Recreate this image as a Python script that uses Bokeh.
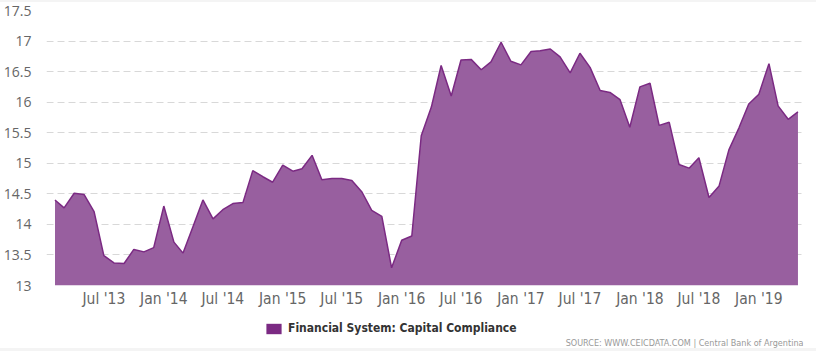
import pandas as pd
from bokeh.plotting import figure
from bokeh.models import (Range1d, FixedTicker, MonthsTicker, DatetimeTickFormatter,
                          NumeralTickFormatter, Legend, LegendItem, Label, Spacer, ColumnDataSource)
from bokeh.layouts import column
from bokeh.embed import file_html
from bokeh.resources import INLINE

# ---- data (monthly, Feb 2013 .. May 2019) ----
start_month = "2013-02-01"
values = [
    14.40, 14.27, 14.51, 14.49, 14.21, 13.49, 13.37, 13.36, 13.59, 13.55, 13.62,   # Feb13-Dec13
    14.30, 13.71, 13.53, 13.97, 14.40, 14.09, 14.24, 14.34, 14.36, 14.88, 14.78, 14.69,  # 2014
    14.97, 14.87, 14.91, 15.13, 14.73, 14.75, 14.75, 14.72, 14.53, 14.23, 14.13, 13.29,  # 2015
    13.74, 13.81, 15.45, 15.92, 16.60, 16.10, 16.69, 16.70, 16.53, 16.66, 16.98, 16.67,  # 2016
    16.61, 16.83, 16.84, 16.87, 16.74, 16.48, 16.80, 16.57, 16.19, 16.16, 16.04, 15.59,  # 2017
    16.25, 16.31, 15.62, 15.67, 14.98, 14.92, 15.09, 14.44, 14.63, 15.22, 15.58, 15.97,  # 2018
    16.13, 16.63, 15.94, 15.72, 15.84,                                                  # 2019
]
dates = pd.date_range(start_month, periods=len(values), freq="MS")
y_ticks = [13, 13.5, 14, 14.5, 15, 15.5, 16, 16.5, 17, 17.5]
series_name = "Financial System: Capital Compliance"
source_text = "SOURCE: WWW.CEICDATA.COM | Central Bank of Argentina"

src = ColumnDataSource(dict(date=dates, value=values))

NARROW = "DejaVu Sans Condensed"

# ---------------- main chart ----------------
p = figure(width=816, height=308, output_backend="svg", toolbar_location=None,
           x_axis_type="datetime",
           x_range=Range1d(pd.Timestamp("2013-01-06"), pd.Timestamp("2019-05-18")),
           y_range=Range1d(13, 17.5),
           min_border_left=43, min_border_right=13, min_border_top=8, min_border_bottom=24)
p.outline_line_color = None
p.background_fill_color = "white"
p.border_fill_color = "white"

p.varea(x="date", y1=13, y2="value", source=src, fill_color="#985f9f", fill_alpha=1.0)
p.line(x="date", y="value", source=src, line_color="#7b2a83", line_width=1.5)

p.xgrid.grid_line_color = None
p.ygrid.grid_line_color = "#d8d8d8"
p.ygrid.grid_line_dash = "7 4"
p.ygrid.grid_line_width = 1
p.ygrid.ticker = FixedTicker(ticks=y_ticks)

ya = p.yaxis[0]
ya.ticker = FixedTicker(ticks=y_ticks)
ya.formatter = NumeralTickFormatter(format="0.[0]")
ya.axis_line_color = None
ya.major_tick_line_color = None
ya.minor_tick_line_color = None
ya.major_label_standoff = 9
ya.major_label_text_font = "Open Sans"
ya.major_label_text_font_size = "14px"
ya.major_label_text_color = "#666666"

xa = p.xaxis[0]
xa.ticker = MonthsTicker(months=[0, 6])
xa.formatter = DatetimeTickFormatter(months="%b '%y", years="%b '%y", days="%b '%y")
xa.axis_line_color = None
xa.major_tick_line_color = None
xa.minor_tick_line_color = None
xa.major_tick_out = 0
xa.major_label_standoff = 4
xa.major_label_text_font = NARROW
xa.major_label_text_font_size = "15.5px"
xa.major_label_text_color = "#666666"

# ---------------- legend / source strip ----------------
# (the column aligns this plot's frame with the main frame: x 43..803 on the page)
lg = figure(width=816, height=38, output_backend="svg", toolbar_location=None,
            x_axis_location=None, y_axis_location=None,
            x_range=Range1d(0, 760), y_range=Range1d(0, 38),
            min_border_left=43, min_border_right=13, min_border_top=0, min_border_bottom=0)
lg.grid.visible = False
lg.outline_line_color = None
lg.background_fill_color = "white"
lg.border_fill_color = "white"

# swatch renderer kept outside the visible range; it only supplies the legend glyph
swatch = lg.quad(left=[-50], right=[-40], top=[-40], bottom=[-50],
                 fill_color="#7b2a83", line_color=None)
legend = Legend(items=[LegendItem(label=series_name, renderers=[swatch])],
                location=(218, 13), orientation="horizontal",
                glyph_width=19, glyph_height=13, label_standoff=5,
                padding=0, margin=0, spacing=0, border_line_color=None,
                background_fill_alpha=0,
                label_text_font=NARROW, label_text_font_style="bold",
                label_text_font_size="12px", label_text_color="#333333",
                label_height=13)
lg.add_layout(legend, "center")

lg.add_layout(Label(x=757, y=6, x_units="screen", y_units="screen", text=source_text,
                    text_align="right", text_baseline="middle",
                    text_font=NARROW, text_font_size="9px",
                    text_color="#999999"))

top = Spacer(width=816, height=2, styles={"background-color": "#f4f4f4"})
bottom = Spacer(width=816, height=3, styles={"background-color": "#f4f4f4"})
layout = column(top, p, lg, bottom, spacing=0)

open("out.html", "w").write(file_html(layout, INLINE))
